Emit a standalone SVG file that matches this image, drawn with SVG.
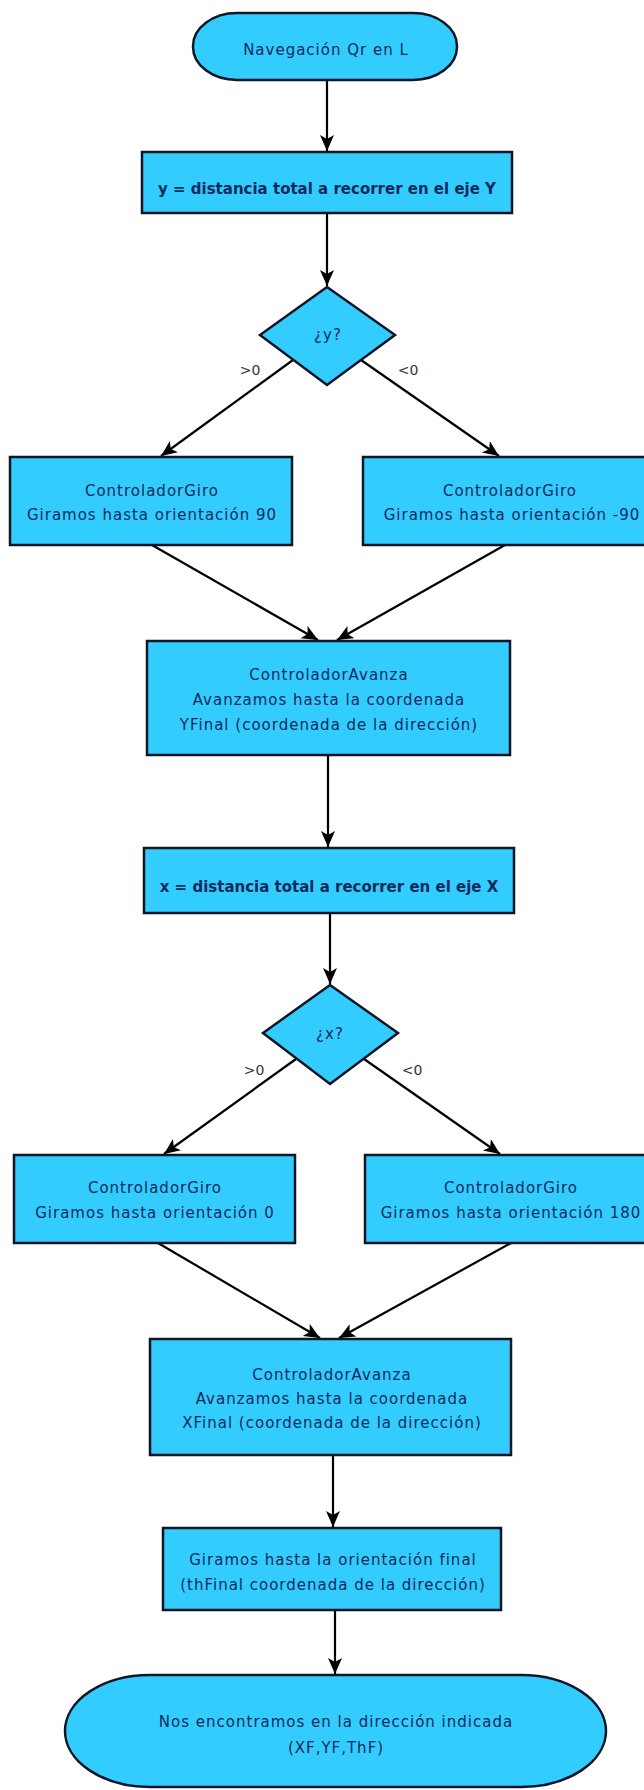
<svg xmlns="http://www.w3.org/2000/svg" width="644" height="1790" viewBox="0 0 644 1790">
<style>
.n{fill:#33CCFF;stroke:#0e1626;stroke-width:2.5}
.t{font-family:"DejaVu Sans",sans-serif;font-size:15px;letter-spacing:1px;fill:#0d2b5a;text-anchor:middle}
.b{font-family:"DejaVu Sans",sans-serif;font-size:15px;font-weight:bold;fill:#0d2b5a;text-anchor:middle}
.l{font-family:"DejaVu Sans",sans-serif;font-size:14px;fill:#333;text-anchor:middle}
.c{stroke:#000;stroke-width:2.2;fill:none;marker-end:url(#ah)}
</style>
<defs>
<marker id="ah" markerUnits="userSpaceOnUse" markerWidth="18" markerHeight="16" refX="16" refY="7" orient="auto">
<path d="M0,0 L16,7 L0,14 L4,7 z" fill="#000"/>
</marker>
</defs>
<rect width="644" height="1790" fill="#fff"/>
<g id="connectors">
<line class="c" x1="327" y1="80" x2="327" y2="151"/>
<line class="c" x1="327" y1="213" x2="327" y2="286"/>
<line class="c" x1="293" y1="360" x2="161" y2="456"/>
<line class="c" x1="361" y1="360" x2="499" y2="456"/>
<line class="c" x1="152" y1="545" x2="318" y2="640"/>
<line class="c" x1="505" y1="545" x2="337" y2="640"/>
<line class="c" x1="328" y1="755" x2="328" y2="847"/>
<line class="c" x1="330" y1="913" x2="330" y2="984"/>
<line class="c" x1="296" y1="1059" x2="164" y2="1154"/>
<line class="c" x1="364" y1="1059" x2="500" y2="1154"/>
<line class="c" x1="158" y1="1243" x2="320" y2="1338"/>
<line class="c" x1="511" y1="1243" x2="339" y2="1338"/>
<line class="c" x1="333" y1="1455" x2="333" y2="1527"/>
<line class="c" x1="335" y1="1610" x2="335" y2="1674"/>
<text class="l" x="250" y="375">&gt;0</text>
<text class="l" x="408" y="375">&lt;0</text>
<text class="l" x="254" y="1075">&gt;0</text>
<text class="l" x="412" y="1075">&lt;0</text>
</g>
<g id="start">
<rect class="n" x="193" y="13" width="264" height="67" rx="44" ry="33"/>
<text class="t" x="326" y="55">Navegación Qr en L</text>
</g>
<g id="calcY">
<rect class="n" x="142" y="152" width="370" height="61"/>
<text class="b" x="327" y="194">y = distancia total a recorrer en el eje Y</text>
</g>
<g id="decY">
<polygon class="n" points="327,287 395,335 327,385 260,335"/>
<text class="t" x="328" y="340">¿y?</text>
</g>
<g id="giroY90">
<rect class="n" x="10" y="457" width="282" height="88"/>
<text class="t" x="152" y="496">ControladorGiro</text>
<text class="t" x="152" y="520">Giramos hasta orientación 90</text>
</g>
<g id="giroYm90">
<rect class="n" x="363" y="457" width="290" height="88"/>
<text class="t" x="510" y="496">ControladorGiro</text>
<text class="t" x="512" y="520">Giramos hasta orientación -90</text>
</g>
<g id="avanzaY">
<rect class="n" x="147" y="641" width="363" height="114"/>
<text class="t" x="329" y="680">ControladorAvanza</text>
<text class="t" x="329" y="705">Avanzamos hasta la coordenada</text>
<text class="t" x="329" y="730">YFinal (coordenada de la dirección)</text>
</g>
<g id="calcX">
<rect class="n" x="144" y="848" width="370" height="65"/>
<text class="b" x="329" y="892">x = distancia total a recorrer en el eje X</text>
</g>
<g id="decX">
<polygon class="n" points="330,985 398,1033 330,1084 263,1033"/>
<text class="t" x="330" y="1039">¿x?</text>
</g>
<g id="giroX0">
<rect class="n" x="14" y="1155" width="281" height="88"/>
<text class="t" x="155" y="1193">ControladorGiro</text>
<text class="t" x="155" y="1218">Giramos hasta orientación 0</text>
</g>
<g id="giroX180">
<rect class="n" x="365" y="1155" width="290" height="88"/>
<text class="t" x="511" y="1193">ControladorGiro</text>
<text class="t" x="511" y="1218">Giramos hasta orientación 180</text>
</g>
<g id="avanzaX">
<rect class="n" x="150" y="1339" width="361" height="116"/>
<text class="t" x="332" y="1380">ControladorAvanza</text>
<text class="t" x="332" y="1404">Avanzamos hasta la coordenada</text>
<text class="t" x="332" y="1428">XFinal (coordenada de la dirección)</text>
</g>
<g id="giroFinal">
<rect class="n" x="163" y="1528" width="338" height="82"/>
<text class="t" x="333" y="1565">Giramos hasta la orientación final</text>
<text class="t" x="333" y="1590">(thFinal coordenada de la dirección)</text>
</g>
<g id="end">
<rect class="n" x="65" y="1675" width="541" height="112" rx="85" ry="56"/>
<text class="t" x="336" y="1727">Nos encontramos en la dirección indicada</text>
<text class="t" x="336" y="1753">(XF,YF,ThF)</text>
</g>
</svg>
